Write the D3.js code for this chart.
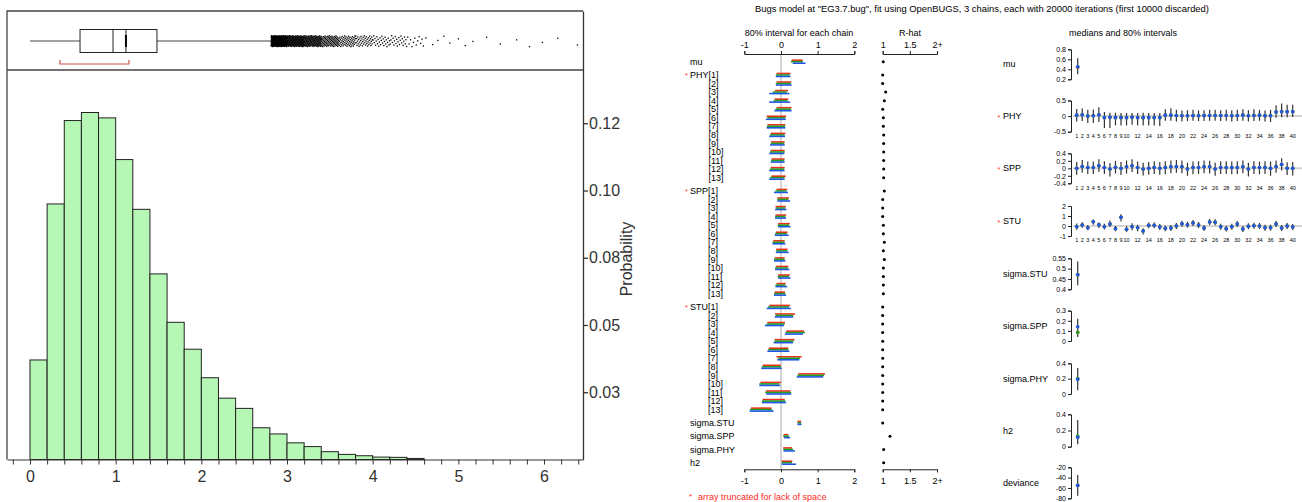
<!DOCTYPE html>
<html>
<head>
<meta charset="utf-8">
<script src="https://cdn.jsdelivr.net/npm/d3@7"></script>
<style>
  body { margin: 0; background: #fff; }
  svg { font-family: "Liberation Sans", Arial, sans-serif; }
</style>
</head>
<body>
<div id="chart"></div>
<script>
// ---------- left: histogram + box plot ----------
const binWidth = 0.2;
const binProb = [0.037, 0.095, 0.126, 0.129, 0.127, 0.1115, 0.093, 0.069, 0.051, 0.041, 0.0304,
  0.0228, 0.019, 0.0118, 0.0095, 0.0062, 0.0048, 0.0029, 0.0019, 0.0014, 0.0009, 0.0008, 0.0004];
const histTickValues = [0.025, 0.05, 0.075, 0.1, 0.125];
const histTickLabels = ["0.03", "0.05", "0.08", "0.10", "0.12"];
const boxStats = [0, 0.584, 0.969, 1.482, 2.813];   // min, q1, median, q3, upper whisker
const meanValue = 1.12;
const shortestHalf = [0.35, 1.155];
const nSims = 30000;
const tailValues = [4.62, 4.7, 4.76, 4.83, 4.9, 5.0, 5.08, 5.17, 5.33, 5.49, 5.68, 5.83, 5.98, 6.16, 6.39];

// ---------- middle: 80% interval for each chain (red, green, blue) ----------
const muChains = [[[0.29, 0.59], [0.27, 0.60], [0.32, 0.67]]];
const phyChains = [
  [[-0.12, 0.26], [-0.14, 0.24], [-0.14, 0.26]],
  [[-0.12, 0.28], [-0.14, 0.27], [-0.14, 0.29]],
  [[-0.16, 0.19], [-0.22, 0.16], [-0.32, 0.23]],
  [[-0.17, 0.20], [-0.20, 0.18], [-0.32, 0.25]],
  [[-0.12, 0.29], [-0.15, 0.27], [-0.18, 0.29]],
  [[-0.39, 0.14], [-0.37, 0.12], [-0.41, 0.13]],
  [[-0.37, 0.12], [-0.38, 0.11], [-0.39, 0.12]],
  [[-0.28, 0.12], [-0.30, 0.10], [-0.32, 0.11]],
  [[-0.27, 0.10], [-0.28, 0.09], [-0.30, 0.10]],
  [[-0.28, 0.10], [-0.30, 0.10], [-0.32, 0.09]],
  [[-0.26, 0.10], [-0.27, 0.09], [-0.28, 0.10]],
  [[-0.28, 0.10], [-0.30, 0.09], [-0.32, 0.10]],
  [[-0.26, 0.13], [-0.30, 0.10], [-0.32, 0.10]]
];
const sppChains = [
  [[-0.12, 0.17], [-0.15, 0.15], [-0.19, 0.19]],
  [[-0.10, 0.22], [-0.10, 0.20], [-0.10, 0.25]],
  [[-0.15, 0.13], [-0.14, 0.12], [-0.16, 0.15]],
  [[-0.15, 0.14], [-0.16, 0.12], [-0.16, 0.14]],
  [[-0.08, 0.24], [-0.09, 0.22], [-0.08, 0.26]],
  [[-0.14, 0.18], [-0.16, 0.16], [-0.17, 0.21]],
  [[-0.21, 0.10], [-0.23, 0.10], [-0.23, 0.12]],
  [[-0.13, 0.18], [-0.13, 0.17], [-0.14, 0.21]],
  [[-0.17, 0.10], [-0.19, 0.10], [-0.19, 0.12]],
  [[-0.14, 0.20], [-0.16, 0.19], [-0.16, 0.23]],
  [[-0.08, 0.24], [-0.09, 0.22], [-0.08, 0.26]],
  [[-0.12, 0.13], [-0.15, 0.12], [-0.15, 0.17]],
  [[-0.17, 0.11], [-0.19, 0.12], [-0.19, 0.14]]
];
const stuChains = [
  [[-0.32, 0.25], [-0.35, 0.22], [-0.39, 0.27]],
  [[-0.16, 0.38], [-0.15, 0.34], [-0.17, 0.33]],
  [[-0.37, 0.11], [-0.39, 0.10], [-0.44, 0.08]],
  [[0.14, 0.63], [0.13, 0.65], [0.11, 0.60]],
  [[-0.17, 0.37], [-0.18, 0.34], [-0.20, 0.33]],
  [[-0.33, 0.20], [-0.35, 0.20], [-0.37, 0.23]],
  [[-0.12, 0.56], [-0.07, 0.52], [-0.10, 0.50]],
  [[-0.50, -0.01], [-0.52, 0.00], [-0.54, 0.02]],
  [[0.47, 1.20], [0.45, 1.17], [0.43, 1.15]],
  [[-0.56, 0.00], [-0.59, -0.05], [-0.59, -0.02]],
  [[-0.41, 0.26], [-0.43, 0.28], [-0.40, 0.28]],
  [[-0.50, 0.10], [-0.52, 0.12], [-0.52, 0.14]],
  [[-0.82, -0.26], [-0.85, -0.24], [-0.85, -0.20]]
];
const sigmaStuChains = [[[0.45, 0.55], [0.45, 0.55], [0.45, 0.56]]];
const sigmaSppChains = [[[0.07, 0.20], [0.06, 0.22], [0.08, 0.25]]];
const sigmaPhyChains = [[[0.06, 0.30], [0.06, 0.33], [0.07, 0.38]]];
const h2Chains = [[[0.02, 0.31], [0.02, 0.30], [0.02, 0.41]]];

const muRhat = [1.01];
const phyRhat = [1.0, 1.0, 1.055, 1.03, 1.0, 1.012, 1.012, 1.018, 1.018, 1.018, 1.018, 1.018, 1.018];
const sppRhat = [1.03, 1.0, 1.0, 1.0, 1.012, 1.012, 1.03, 1.012, 1.03, 1.012, 1.012, 1.012, 1.012];
const stuRhat = [1.0, 1.0, 1.0, 1.0, 1.0, 1.0, 1.0, 1.0, 1.0, 1.0, 1.0, 1.0, 1.0];
const sigmaStuRhat = [1.0];
const sigmaSppRhat = [1.134];
const sigmaPhyRhat = [1.018];
const h2Rhat = [1.018];

// ---------- right: medians and 80% intervals ----------
const phyMed = [0.03, 0.04, 0.0, 0.01, 0.04, -0.05, -0.04, -0.05, -0.05, -0.05, -0.04, -0.05, -0.05, -0.05, -0.05, -0.05,
  0.03, 0.03, 0.02, 0.01, 0.01, 0.02, 0.01, 0.02, 0.02, 0.02, 0.02, 0.02, 0.01, 0.02, 0.03, 0.01, 0.02, 0.03, 0.01, 0.01,
  0.13, 0.14, 0.14, 0.14];
const phyLo = [-0.17, -0.16, -0.22, -0.22, -0.19, -0.38, -0.38, -0.3, -0.3, -0.3, -0.28, -0.3, -0.3, -0.3, -0.3, -0.32,
  -0.15, -0.15, -0.17, -0.17, -0.16, -0.15, -0.16, -0.16, -0.15, -0.15, -0.16, -0.15, -0.17, -0.16, -0.15, -0.17, -0.16,
  -0.15, -0.17, -0.19, -0.05, -0.04, -0.04, -0.03];
const phyHi = [0.23, 0.24, 0.2, 0.21, 0.28, 0.13, 0.11, 0.11, 0.1, 0.1, 0.1, 0.1, 0.11, 0.1, 0.1, 0.1,
  0.22, 0.25, 0.2, 0.18, 0.19, 0.2, 0.18, 0.19, 0.2, 0.2, 0.19, 0.2, 0.19, 0.2, 0.22, 0.19, 0.22, 0.2, 0.18, 0.2,
  0.35, 0.4, 0.36, 0.36];
const sppMed = [0, 0.05, 0.02, 0.02, 0.07, 0.02, -0.02, 0.03, 0, 0.04, 0.07, 0.02, -0.02, 0, 0.02, 0, 0.02, 0.04, 0.05, 0.04,
  -0.02, 0.02, 0.02, 0.04, 0.04, -0.02, 0.02, 0.02, 0.02, 0.02, 0.04, -0.02, 0.02, 0.02, 0.02, 0, 0.05, 0.1, 0, 0];
const sppLo = [-0.17, -0.12, -0.15, -0.15, -0.1, -0.15, -0.22, -0.14, -0.18, -0.14, -0.1, -0.15, -0.19, -0.17, -0.15, -0.17,
  -0.16, -0.13, -0.12, -0.13, -0.2, -0.16, -0.15, -0.13, -0.14, -0.2, -0.15, -0.15, -0.16, -0.15, -0.13, -0.22, -0.15,
  -0.16, -0.15, -0.2, -0.12, -0.06, -0.18, -0.19];
const sppHi = [0.17, 0.22, 0.18, 0.18, 0.24, 0.19, 0.14, 0.2, 0.17, 0.21, 0.24, 0.18, 0.15, 0.17, 0.19, 0.17, 0.19, 0.21,
  0.22, 0.21, 0.15, 0.18, 0.19, 0.21, 0.2, 0.15, 0.19, 0.19, 0.18, 0.19, 0.21, 0.15, 0.19, 0.18, 0.19, 0.18, 0.21, 0.27,
  0.16, 0.17];
const stuMed = [-0.07, 0.1, -0.17, 0.43, 0.13, -0.07, 0.2, -0.27, 0.87, -0.33, -0.07, -0.17, -0.5, 0.07, 0.07, -0.1, -0.23,
  -0.2, 0, 0.23, 0.13, 0.3, 0.1, -0.2, 0.4, 0.37, -0.07, -0.27, -0.07, 0.2, -0.3, -0.03, 0.03, 0, -0.17, -0.17, 0.2, -0.2,
  0, -0.1];
const stuLo = [-0.37, -0.17, -0.42, 0.12, -0.19, -0.36, -0.1, -0.53, 0.44, -0.59, -0.42, -0.52, -0.84, -0.22, -0.22, -0.4,
  -0.52, -0.5, -0.3, -0.08, -0.17, 0, -0.2, -0.5, 0.1, 0.07, -0.37, -0.56, -0.37, -0.1, -0.6, -0.33, -0.27, -0.3, -0.47,
  -0.47, -0.1, -0.5, -0.3, -0.4];
const stuHi = [0.26, 0.37, 0.1, 0.64, 0.36, 0.22, 0.54, 0.01, 1.18, -0.02, 0.27, 0.13, -0.22, 0.36, 0.36, 0.2, 0.06, 0.1,
  0.3, 0.53, 0.43, 0.6, 0.4, 0.1, 0.7, 0.67, 0.23, 0.03, 0.23, 0.5, 0, 0.27, 0.33, 0.3, 0.13, 0.13, 0.5, 0.1, 0.3, 0.2];
const indexLabels = [1, 2, 3, 4, 5, 6, 7, 8, 9, 10, 12, 14, 16, 18, 20, 22, 24, 26, 28, 30, 32, 34, 36, 38, 40];

// scalar summaries: chain medians (red, green, blue) and pooled 80% interval
const muMed = [0.44, 0.45, 0.45], muInt = [0.30, 0.62];
const sigmaStuMed = [0.47, 0.47, 0.47], sigmaStuInt = [0.42, 0.535];
const sigmaSppMed = [0.085, 0.085, 0.14], sigmaSppInt = [0.04, 0.22];
const sigmaPhyMed = [0.2, 0.2, 0.19], sigmaPhyInt = [0.05, 0.34];
const h2Med = [0.12, 0.13, 0.115], h2Int = [0.03, 0.33];
const devianceMed = [-55, -55, -55], devianceInt = [-75, -35];

const chainColors = ["#e8301a", "#1f9e1f", "#2256e6"];

const svg = d3.select("#chart").append("svg")
  .attr("width", 1302)
  .attr("height", 502);

// =============== LEFT PANEL ===============
const xHist = d3.scaleLinear().domain([-0.2685, 6.455]).range([7, 583]);
const yHist = d3.scaleLinear().domain([0, 0.16673]).range([459.5, 11]);

svg.selectAll("rect.bar")
  .data(binProb)
  .enter().append("rect")
  .attr("class", "bar")
  .attr("x", (d, i) => xHist(i * binWidth))
  .attr("y", d => yHist(d))
  .attr("width", xHist(binWidth) - xHist(0))
  .attr("height", d => yHist(0) - yHist(d))
  .attr("fill", "#b6f7b6")
  .attr("stroke", "#222")
  .attr("stroke-width", 1);

// frame
svg.append("path")
  .attr("d", "M7,459.5V11H583M7,70H583")
  .attr("fill", "none").attr("stroke", "#444").attr("stroke-width", 1.3);

// x axis
const xAxis = svg.append("g")
  .attr("transform", "translate(0,459.5)")
  .call(d3.axisBottom(xHist)
    .tickValues(d3.range(-1, 33).map(i => +(i * 0.2).toFixed(1)))
    .tickFormat(d => Number.isInteger(d) ? String(d) : "")
    .tickSize(5).tickSizeOuter(0).tickPadding(6));
xAxis.selectAll("text").attr("font-size", 16).attr("fill", "#333");
xAxis.selectAll("line, path").attr("stroke", "#333");

// right axis
const yAxis = svg.append("g")
  .attr("transform", "translate(583,0)")
  .call(d3.axisRight(yHist)
    .tickValues(histTickValues)
    .tickFormat((d, i) => histTickLabels[i])
    .tickSize(5).tickSizeOuter(0).tickPadding(1));
yAxis.selectAll("text").attr("font-size", 16).attr("fill", "#333");
yAxis.selectAll("line, path").attr("stroke", "#333").attr("stroke-width", 1.3);

svg.append("text")
  .attr("transform", "translate(632,259) rotate(-90)")
  .attr("text-anchor", "middle")
  .attr("font-size", 16)
  .attr("fill", "#333")
  .text("Probability");

// box plot
const boxY = 41, boxH = 23;
svg.append("line")
  .attr("x1", xHist(boxStats[0])).attr("x2", xHist(boxStats[1]))
  .attr("y1", boxY).attr("y2", boxY).attr("stroke", "#444");
svg.append("line")
  .attr("x1", xHist(boxStats[3])).attr("x2", xHist(boxStats[4]))
  .attr("y1", boxY).attr("y2", boxY).attr("stroke", "#444");
svg.append("rect")
  .attr("x", xHist(boxStats[1])).attr("y", boxY - boxH / 2)
  .attr("width", xHist(boxStats[3]) - xHist(boxStats[1])).attr("height", boxH)
  .attr("fill", "none").attr("stroke", "#222");
svg.append("line")
  .attr("x1", xHist(boxStats[2])).attr("x2", xHist(boxStats[2]))
  .attr("y1", boxY - boxH / 2).attr("y2", boxY + boxH / 2).attr("stroke", "#222");
svg.append("line")
  .attr("x1", xHist(meanValue)).attr("x2", xHist(meanValue))
  .attr("y1", boxY - boxH / 2).attr("y2", boxY + boxH / 2).attr("stroke", "#222");
svg.append("line")
  .attr("x1", xHist(meanValue)).attr("x2", xHist(meanValue))
  .attr("y1", boxY - 6).attr("y2", boxY + 6).attr("stroke", "#000").attr("stroke-width", 2);

// shortest half bracket
svg.append("path")
  .attr("d", `M${xHist(shortestHalf[0])},60V64H${xHist(shortestHalf[1])}V60`)
  .attr("fill", "none").attr("stroke", "#c8524a").attr("stroke-width", 1.2);

// outlier points beyond the whisker, laid out from the histogram counts
const outliers = [];
binProb.forEach((p, bi) => {
  const start = bi * binWidth;
  const count = Math.round(p * nSims);
  if (start + binWidth <= boxStats[4]) return;
  for (let k = 0; k < count; k++) {
    const v = start + binWidth * (k + 0.5) / count;
    if (v > boxStats[4]) outliers.push({ v: v, j: (k * 0.618034 + bi * 0.37) % 1 });
  }
});
tailValues.forEach((v, k) => outliers.push({ v: v, j: (k * 0.618034 + 0.2) % 1 }));

svg.selectAll("rect.out")
  .data(outliers)
  .enter().append("rect")
  .attr("class", "out")
  .attr("x", d => xHist(d.v) - 0.6)
  .attr("y", d => 35 + d.j * 11)
  .attr("width", 1.3).attr("height", 1.3)
  .attr("fill", "#000");

// =============== TITLE ===============
svg.append("text")
  .attr("x", 982).attr("y", 12)
  .attr("text-anchor", "middle").attr("font-size", 9.4)
  .text('Bugs model at "EG3.7.bug", fit using OpenBUGS, 3 chains, each with 20000 iterations (first 10000 discarded)');

// =============== MIDDLE PANEL ===============
const params = [
  { name: "mu", chains: muChains, rhat: muRhat, array: false },
  { name: "PHY", chains: phyChains, rhat: phyRhat, array: true },
  { name: "SPP", chains: sppChains, rhat: sppRhat, array: true },
  { name: "STU", chains: stuChains, rhat: stuRhat, array: true },
  { name: "sigma.STU", chains: sigmaStuChains, rhat: sigmaStuRhat, array: false },
  { name: "sigma.SPP", chains: sigmaSppChains, rhat: sigmaSppRhat, array: false },
  { name: "sigma.PHY", chains: sigmaPhyChains, rhat: sigmaPhyRhat, array: false },
  { name: "h2", chains: h2Chains, rhat: h2Rhat, array: false }
];

const rows = [];
let slot = 0;
params.forEach((p, pi) => {
  if (pi > 0) slot += 1.55;
  p.chains.forEach((c, i) => {
    if (i > 0) slot += 1;
    rows.push({ param: p, i: i, slot: slot, chains: c, rhat: p.rhat[i] });
  });
});

const yRow = d3.scaleLinear().domain([0, slot]).range([61.7, 462.7]);
const xMid = d3.scaleLinear().domain([-1, 2]).range([744.3, 854.3]);
const xRhat = d3.scaleLinear().domain([1, 2]).range([882.7, 937]);

svg.append("text").attr("x", 799).attr("y", 36).attr("text-anchor", "middle").attr("font-size", 9)
  .text("80% interval for each chain");
svg.append("text").attr("x", 910).attr("y", 36).attr("text-anchor", "middle").attr("font-size", 9)
  .text("R-hat");

// zero line
svg.append("line")
  .attr("x1", xMid(0)).attr("x2", xMid(0))
  .attr("y1", 54).attr("y2", 469.3)
  .attr("stroke", "#d4d4d4").attr("stroke-width", 2);

function styleAxis(g, size) {
  g.selectAll("text").attr("font-size", size).attr("fill", "#000");
  g.selectAll("line, path").attr("stroke", "#222");
}
[[xMid, [-1, 0, 1, 2], d => String(d)], [xRhat, [1, 1.5, 2], d => d === 2 ? "2+" : String(d)]].forEach(a => {
  const top = svg.append("g").attr("transform", "translate(0,54)")
    .call(d3.axisTop(a[0]).tickValues(a[1]).tickFormat(a[2]).tickSize(3).tickSizeOuter(3).tickPadding(3));
  styleAxis(top, 9);
  const bot = svg.append("g").attr("transform", "translate(0,469.3)")
    .call(d3.axisBottom(a[0]).tickValues(a[1]).tickFormat(a[2]).tickSize(3).tickSizeOuter(3).tickPadding(5));
  styleAxis(bot, 9);
});

// row labels
const labelX = 690;
const nameWidth = {};
params.forEach(p => {
  const t = svg.append("text").attr("font-size", 9).text(p.name);
  nameWidth[p.name] = t.node().getComputedTextLength();
  t.remove();
});
rows.forEach(r => {
  const isFirst = r.i === 0;
  const label = r.param.array ? (isFirst ? r.param.name + "[1]" : "[" + (r.i + 1) + "]") : r.param.name;
  svg.append("text")
    .attr("x", isFirst ? labelX : labelX + nameWidth[r.param.name])
    .attr("y", yRow(r.slot))
    .attr("dy", "0.35em")
    .attr("font-size", 9)
    .text(label);
  if (r.param.array && isFirst) {
    svg.append("text")
      .attr("x", 685).attr("y", yRow(r.slot)).attr("dy", "0.5em")
      .attr("font-size", 7).attr("fill", "#ff2a1a")
      .text("*");
  }
});

// chain intervals
rows.forEach(r => {
  r.chains.forEach((c, j) => {
    svg.append("line")
      .attr("x1", xMid(c[0])).attr("x2", xMid(c[1]))
      .attr("y1", yRow(r.slot) + (j - 1) * 1.5).attr("y2", yRow(r.slot) + (j - 1) * 1.5)
      .attr("stroke", chainColors[j]).attr("stroke-width", 1.6);
  });
});

// R-hat dots
svg.selectAll("circle.rhat")
  .data(rows)
  .enter().append("circle")
  .attr("class", "rhat")
  .attr("cx", d => xRhat(d.rhat))
  .attr("cy", d => yRow(d.slot))
  .attr("r", 1.5)
  .attr("fill", "#000");

svg.append("text").attr("x", 689).attr("y", 499).attr("font-size", 8).attr("fill", "#ff2a1a").text("*");
svg.append("text").attr("x", 698).attr("y", 500).attr("font-size", 9).attr("fill", "#ff2a1a")
  .text("array truncated for lack of space");

// =============== RIGHT PANEL ===============
svg.append("text").attr("x", 1123).attr("y", 36).attr("text-anchor", "middle").attr("font-size", 9)
  .text("medians and 80% intervals");

const axisX = 1071;
const xVec = d3.scaleLinear().domain([1, 40]).range([1076.7, 1292.7]);
const xScalar = 1077.7;

const subplots = [
  { name: "mu", ticks: [0.2, 0.4, 0.6, 0.8], px: [79.3, 49.3], med: [muMed], lo: [muInt[0]], hi: [muInt[1]] },
  { name: "PHY", star: true, ticks: [-0.5, 0, 0.5], px: [131.7, 100.5], med: [phyMed], lo: phyLo, hi: phyHi },
  { name: "SPP", star: true, ticks: [-0.4, -0.2, 0, 0.2, 0.4], px: [183.3, 153.3], med: [sppMed], lo: sppLo, hi: sppHi },
  { name: "STU", star: true, ticks: [-1, 0, 1, 2], px: [236, 206], med: [stuMed], lo: stuLo, hi: stuHi },
  { name: "sigma.STU", ticks: [0.4, 0.45, 0.5, 0.55], px: [289.3, 258.3], med: [sigmaStuMed], lo: [sigmaStuInt[0]], hi: [sigmaStuInt[1]] },
  { name: "sigma.SPP", ticks: [0, 0.1, 0.2, 0.3], px: [341, 310.7], med: [sigmaSppMed], lo: [sigmaSppInt[0]], hi: [sigmaSppInt[1]] },
  { name: "sigma.PHY", ticks: [0, 0.2, 0.4], px: [394, 363.3], med: [sigmaPhyMed], lo: [sigmaPhyInt[0]], hi: [sigmaPhyInt[1]] },
  { name: "h2", ticks: [0, 0.2, 0.4], px: [446.7, 414.3], med: [h2Med], lo: [h2Int[0]], hi: [h2Int[1]] },
  { name: "deviance", ticks: [-80, -60, -40, -20], px: [498.3, 467.3], med: [devianceMed], lo: [devianceInt[0]], hi: [devianceInt[1]] }
];

subplots.forEach(sp => {
  const y = d3.scaleLinear().domain([sp.ticks[0], sp.ticks[sp.ticks.length - 1]]).range(sp.px);
  const midY = (sp.px[0] + sp.px[1]) / 2;
  const isVector = sp.lo.length > 1;

  svg.append("text").attr("x", 1003).attr("y", midY).attr("dy", "0.35em").attr("font-size", 9).text(sp.name);
  if (sp.star) {
    svg.append("text").attr("x", 997.5).attr("y", midY).attr("dy", "0.5em")
      .attr("font-size", 7).attr("fill", "#ff2a1a").text("*");
  }

  const ax = svg.append("g").attr("transform", `translate(${axisX},0)`)
    .call(d3.axisLeft(y).tickValues(sp.ticks).tickFormat(d => String(d)).tickSize(3).tickSizeOuter(3).tickPadding(2));
  styleAxis(ax, 7);

  if (isVector) {
    svg.append("line")
      .attr("x1", axisX + 2).attr("x2", 1302)
      .attr("y1", y(0)).attr("y2", y(0))
      .attr("stroke", "#d4d4d4").attr("stroke-width", 2);

    svg.selectAll(null)
      .data(sp.lo)
      .enter().append("line")
      .attr("x1", (d, i) => xVec(i + 1)).attr("x2", (d, i) => xVec(i + 1))
      .attr("y1", d => y(d)).attr("y2", (d, i) => y(sp.hi[i]))
      .attr("stroke", "#333").attr("stroke-width", 1.2);

    chainColors.forEach(col => {
      svg.selectAll(null)
        .data(sp.med[0])
        .enter().append("circle")
        .attr("cx", (d, i) => xVec(i + 1))
        .attr("cy", d => y(d))
        .attr("r", 1.8)
        .attr("fill", col);
    });

    svg.selectAll(null)
      .data(indexLabels)
      .enter().append("text")
      .attr("x", d => xVec(d))
      .attr("y", sp.px[0] + 4.5)
      .attr("dy", "0.35em")
      .attr("text-anchor", "middle")
      .attr("font-size", 5.5)
      .text(d => d);
  } else {
    svg.append("line")
      .attr("x1", xScalar).attr("x2", xScalar)
      .attr("y1", y(sp.lo[0])).attr("y2", y(sp.hi[0]))
      .attr("stroke", "#333").attr("stroke-width", 1.2);
    sp.med[0].forEach((m, j) => {
      svg.append("circle")
        .attr("cx", xScalar).attr("cy", y(m))
        .attr("r", 1.8).attr("fill", chainColors[j]);
    });
  }
});
</script>
</body>
</html>
